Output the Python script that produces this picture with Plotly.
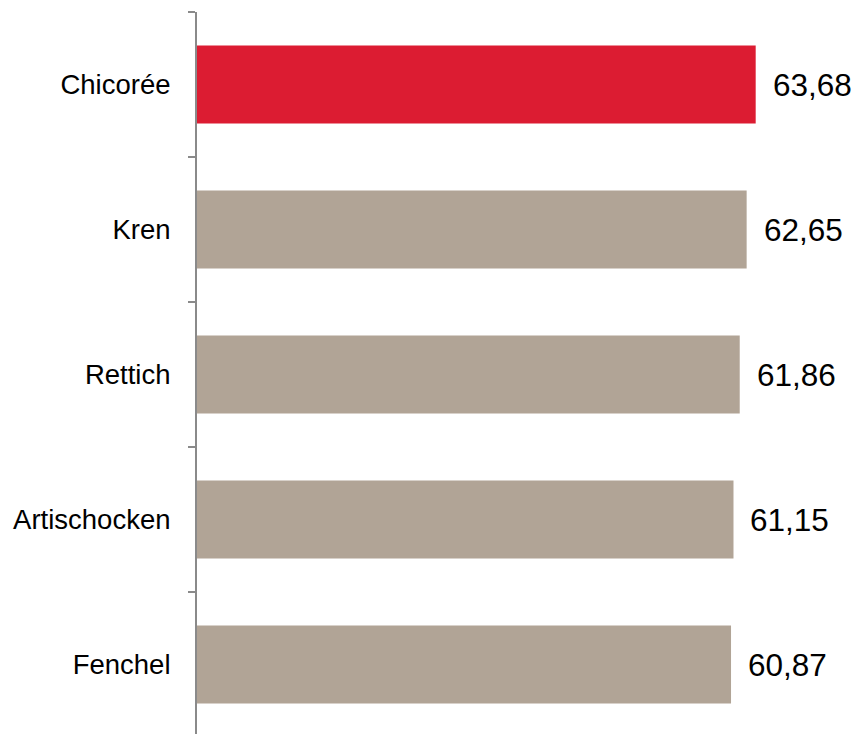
import plotly.graph_objects as go

categories = ["Chicorée", "Kren", "Rettich", "Artischocken", "Fenchel"]
values = [63.68, 62.65, 61.86, 61.15, 60.87]
value_labels = ["63,68", "62,65", "61,86", "61,15", "60,87"]
highlight = "Chicorée"

RED = "#DC1C32"
TAN = "#B1A496"
colors = [RED if c == highlight else TAN for c in categories]

fig = go.Figure()
fig.add_trace(go.Bar(
    x=values, y=categories, orientation="h",
    marker=dict(color=colors, line=dict(width=0)),
    hoverinfo="skip",
))

for c, v, t in zip(categories, values, value_labels):
    fig.add_annotation(x=v, y=c, text=t, showarrow=False, xanchor="left",
                       yanchor="middle", xshift=15,
                       font=dict(family="Liberation Sans, Arial, sans-serif", size=31.5, color="#000000"))

fig.update_layout(
    width=858, height=734,
    margin=dict(l=197, r=3, t=12, b=0, pad=0),
    paper_bgcolor="white", plot_bgcolor="white",
    bargap=0.462,
    showlegend=False,
    font=dict(family="Liberation Sans, Arial, sans-serif", size=27.5, color="#000000"),
)
fig.update_xaxes(range=[0, 75], visible=False, showgrid=False, zeroline=False)
fig.update_yaxes(
    type="category", categoryorder="array", categoryarray=categories,
    range=[4.479, -0.5],
    showline=True, linecolor="#8A8A8A", linewidth=2,
    ticks="outside", tickson="boundaries", ticklen=7, tickwidth=2, tickcolor="#8A8A8A",
    ticklabelstandoff=19,
    showgrid=False, zeroline=False,
    tickfont=dict(size=27.5, color="#000000"),
)

fig.write_html("out.html", config={"displayModeBar": False, "staticPlot": True},
               post_script="document.body.style.margin='0';document.body.style.overflow='hidden';")
